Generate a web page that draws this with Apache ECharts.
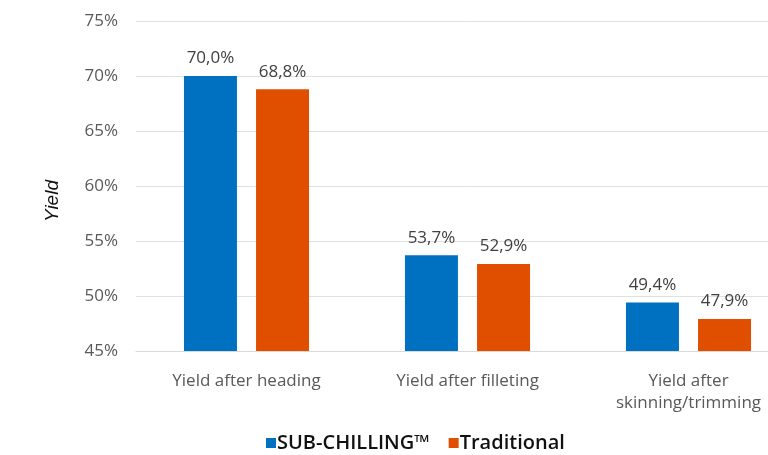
<!DOCTYPE html>
<html><head><meta charset="utf-8">
<script src="https://cdn.jsdelivr.net/npm/echarts@6/dist/echarts.min.js"></script>
<style>html,body{margin:0;padding:0;background:#fff;overflow:hidden;width:768px;height:455px}#c{width:800px;height:455px}</style>
</head><body><div id="c"></div>
<script>
const categories = ["Yield after heading", "Yield after filleting", "Yield after\nskinning/trimming"];
const subChilling = [70.0, 53.7, 49.4];
const traditional = [68.8, 52.9, 47.9];
const seriesNames = ["SUB-CHILLING™", "Traditional"];
const yMin = 45, yMax = 75, yStep = 5;

const fmt = v => v.toFixed(1).replace('.', ',') + '%';
const font = "'Open Sans', sans-serif";
const chart = echarts.init(document.getElementById('c'));
const mkSeries = (name, data, color) => ({
  name, type: 'bar', data, barWidth: 53, barGap: '36%',
  itemStyle: { color },
  label: { show: true, position: 'top', distance: 9, formatter: p => fmt(p.value),
           color: '#404040', fontSize: 17, fontFamily: font }
});
chart.setOption({
  animation: false,
  textStyle: { fontFamily: font },
  grid: { left: 136, top: 21, width: 663, height: 330, containLabel: false },
  legend: {
    top: 428, left: 261, icon: 'rect', itemWidth: 10, itemHeight: 10, itemGap: 19,
    textStyle: { color: '#111', fontSize: 20, fontWeight: 600, fontFamily: font, padding: [0,0,0,-4] },
    data: seriesNames
  },
  xAxis: {
    type: 'category', data: categories,
    axisLine: { lineStyle: { color: '#d9d9d9' } }, axisTick: { show: false },
    axisLabel: { color: '#595959', fontSize: 17, fontFamily: font, margin: 19, lineHeight: 22 }
  },
  yAxis: {
    type: 'value', min: yMin, max: yMax, interval: yStep,
    name: 'Yield', nameLocation: 'middle', nameGap: 74, nameRotate: 90,
    nameTextStyle: { color: '#111', fontSize: 19, fontStyle: 'italic', padding: [0, 30, 0, 0],
                     fontFamily: "'Liberation Sans', Arial, sans-serif" },
    axisLabel: { formatter: v => v + '%', color: '#595959', fontSize: 17, fontFamily: font, margin: 18 },
    splitLine: { lineStyle: { color: '#e0e0e0' } },
    axisLine: { show: false }, axisTick: { show: false }
  },
  series: [mkSeries(seriesNames[0], subChilling, '#0070C0'), mkSeries(seriesNames[1], traditional, '#E04F00')]
});
</script></body></html>
